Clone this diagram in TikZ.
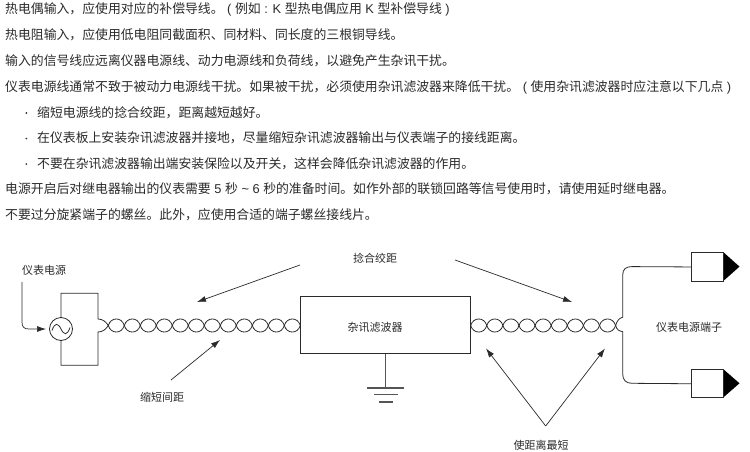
\documentclass[tikz,border=0pt]{standalone}
\usepackage{fontspec}
\setmainfont{Noto Sans CJK SC}
\newfontfamily\latf{Liberation Sans}
\newcommand{\lat}[1]{{\latf #1}}
\usetikzlibrary{arrows.meta}
\definecolor{ink}{HTML}{2A2A2A}
\tikzset{
  txt/.style={anchor=west,inner sep=0pt,text=ink,font=\fontsize{12.85}{14}\selectfont},
  lbl/.style={inner sep=0pt,text=ink,font=\fontsize{11}{13}\selectfont},
  wire/.style={draw=ink,line width=0.8pt},
  arr/.style={draw=ink,line width=0.7pt,-{Latex[length=9pt,width=6pt]}},
  boxed/.style={draw=ink,line width=0.9pt,fill=white},
  bul/.style={circle,fill=ink,inner sep=0pt,minimum size=1.9pt},
}
\begin{document}
\begin{tikzpicture}[x=1pt,y=-1pt]
\useasboundingbox (0,0) rectangle (750,452);
\node[txt] (l1) at (5,9) {热电偶输入，应使用对应的补偿导线。\lat{ ( }例如\lat{ : K }型热电偶应用\lat{ K }型补偿导线\lat{ )}};
\node[txt] (l2) at (5,35) {热电阻输入，应使用低电阻同截面积、同材料、同长度的三根铜导线。};
\node[txt] (l3) at (5,61) {输入的信号线应远离仪器电源线、动力电源线和负荷线，以避免产生杂讯干扰。};
\node[txt] (l4) at (5,87) {仪表电源线通常不致于被动力电源线干扰。如果被干扰，必须使用杂讯滤波器来降低干扰。\lat{ ( }使用杂讯滤波器时应注意以下几点\lat{ )}};
\node[bul] (b1) at (26.3,113) {};
\node[txt] (l5) at (37,113) {缩短电源线的捻合绞距，距离越短越好。};
\node[bul] (b2) at (26.3,138.5) {};
\node[txt] (l6) at (37,138) {在仪表板上安装杂讯滤波器并接地，尽量缩短杂讯滤波器输出与仪表端子的接线距离。};
\node[bul] (b3) at (26.3,164) {};
\node[txt] (l7) at (37,164) {不要在杂讯滤波器输出端安装保险以及开关，这样会降低杂讯滤波器的作用。};
\node[txt] (l8) at (5,189) {电源开启后对继电器输出的仪表需要\lat{ 5 }秒\lat{ \textasciitilde{} 6 }秒的准备时间。如作外部的联锁回路等信号使用时，请使用延时继电器。};
\node[txt] (l9) at (5,215) {不要过分旋紧端子的螺丝。此外，应使用合适的端子螺丝接线片。};
% source box
\draw[wire] (61,329) -- (61,293.3) -- (98,293.3) -- (98,319)
  .. controls (103,319) and (106,322) .. (108.3,325.5)
  .. controls (106,329) and (103,332) .. (98,332) -- (98,365.3) -- (61,365.3) -- cycle;
\node[circle,draw=ink,line width=0.8pt,fill=white,minimum size=23pt,inner sep=0pt] (src) at (61,329) {};
\draw[wire] (52,330.5) .. controls (55,322) and (58,323) .. (61,329) .. controls (64,335) and (67,336) .. (70,327.5);
% twists
\foreach \i in {0,...,11}{
  \pgfmathsetmacro{\xa}{108.3+\i*16}
  \pgfmathsetmacro{\xb}{\xa+16}
  \draw[wire] (\xa,325.5) .. controls (\xa+2.5,316.8) and (\xb-2.5,316.8) .. (\xb,325.5)
     .. controls (\xb-2.5,334.2) and (\xa+2.5,334.2) .. (\xa,325.5);
}
\foreach \i in {0,...,8}{
  \pgfmathsetmacro{\xa}{470.7+\i*16.1}
  \pgfmathsetmacro{\xb}{\xa+16.1}
  \draw[wire] (\xa,325.5) .. controls (\xa+2.5,316.8) and (\xb-2.5,316.8) .. (\xb,325.5)
     .. controls (\xb-2.5,334.2) and (\xa+2.5,334.2) .. (\xa,325.5);
}
% filter
\node[boxed,minimum width=170pt,minimum height=56.6pt,inner sep=0pt] (filt) at (385.8,325) {};
\node[lbl] (filtt) at (375,327) {杂讯滤波器};
\coordinate (g0) at (385.7,387.7);
\draw[draw=ink!80,line width=1.2pt] (filt.south -| g0) -- (g0);
\draw[draw=ink!80,line width=1.1pt] (367.3,388) -- (404,388);
\draw[draw=ink!80,line width=1.1pt] (374,394.5) -- (397.7,394.5);
\draw[draw=ink!80,line width=1.1pt] (379,402) -- (393,402);
% right wires
\node[boxed,anchor=north west,minimum width=31.7pt,minimum height=28.4pt,inner sep=0pt] (t1) at (691,252.3) {};
\node[boxed,anchor=north west,minimum width=31.7pt,minimum height=28pt,inner sep=0pt] (t2) at (691,369.3) {};
\fill[black] (724,252.8) -- (739.5,266.6) -- (724,280.4) -- cycle;
\fill[black] (724,369.8) -- (739.5,383.3) -- (724,396.8) -- cycle;
\draw[wire] (615.6,325.5) .. controls (617,321) and (619,318) .. (622.7,317.3)
  -- (622.7,275) .. controls (622.7,269) and (626,266.6) .. (632,266.6) -- (t1.west);
\draw[wire] (615.6,325.5) .. controls (617,330) and (619,331) .. (622.7,331.7)
  -- (622.7,374) .. controls (622.7,380) and (626,383.3) .. (632,383.3) -- (t2.west);
\node[lbl] (tlab) at (689,327) {仪表电源端子};
% labels and arrows
\node[lbl] (twist) at (375,258) {捻合绞距};
\node[lbl] (pow) at (44,270) {仪表电源};
\node[lbl] (short) at (162,397) {缩短间距};
\node[lbl] (mind) at (541,445) {使距离最短};
\coordinate (a1) at (300,265); \coordinate (a2) at (197,302);
\coordinate (a3) at (455,260); \coordinate (a4) at (572,302);
\coordinate (a5) at (171,380); \coordinate (a6) at (220,340);
\coordinate (a7) at (545.7,426); \coordinate (a8) at (486,348.5);
\coordinate (a10) at (605,348.5);
\draw[arr] (a1) -- (a2);
\draw[arr] (a3) -- (a4);
\draw[arr] (a5) -- (a6);
\draw[arr] (a7) -- (a8);
\draw[arr] (a7) -- (a10);
\draw[wire,line width=0.7pt,-{Latex[length=9pt,width=6pt]}] (22,282) -- (22,322) .. controls (22,327) and (24,329) .. (29,329) -- (46,329);
\end{tikzpicture}
\end{document}
